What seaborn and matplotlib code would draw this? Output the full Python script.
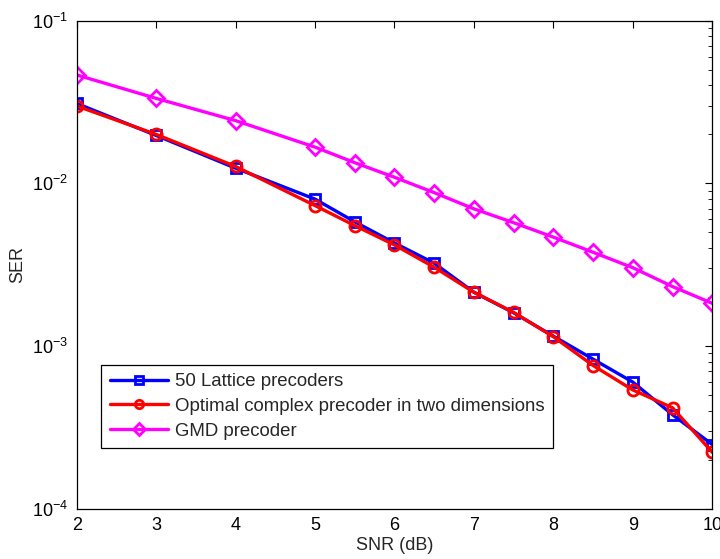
import matplotlib
matplotlib.use("Agg")
import matplotlib.pyplot as plt
import seaborn as sns
import numpy as np
from matplotlib.ticker import LogLocator, NullFormatter, FixedLocator

snr = [2, 3, 4, 5, 5.5, 6, 6.5, 7, 7.5, 8, 8.5, 9, 9.5, 10]
lattice = [0.0310, 0.0197, 0.0124, 0.0080, 0.0058, 0.0043, 0.00323, 0.00214, 0.00160, 0.00115, 0.00083, 0.00060, 0.000378, 0.000248]
optimal = [0.0299, 0.0200, 0.0127, 0.0073, 0.0055, 0.00418, 0.00305, 0.00214, 0.00161, 0.00114, 0.000759, 0.000537, 0.000417, 0.000222]
gmd = [0.0464, 0.0333, 0.0243, 0.0167, 0.0134, 0.0109, 0.00877, 0.00697, 0.00573, 0.00467, 0.00377, 0.00303, 0.00232, 0.00183]
labels = ["50 Lattice precoders", "Optimal complex precoder in two dimensions", "GMD precoder"]
xticks = [2, 3, 4, 5, 6, 7, 8, 9, 10]

sns.set_style("white")
plt.rcParams['font.family'] = ['Liberation Sans', 'DejaVu Sans']
plt.rcParams['mathtext.fontset'] = 'custom'
plt.rcParams['mathtext.rm'] = 'Liberation Sans'
plt.rcParams['mathtext.it'] = 'Liberation Sans'

FS = 13
fig = plt.figure(figsize=(7.2, 5.59), dpi=100)
ax = fig.add_axes([0.1065, 0.09, 0.8828, 0.873])

styles = [
    dict(color="#0000ff", marker="s", markersize=7),
    dict(color="#ff0000", marker="o", markersize=8),
    dict(color="#ff00ff", marker="D", markersize=8),
]
for ys, lab, st in zip([lattice, optimal, gmd], labels, styles):
    sns.lineplot(x=snr, y=ys, ax=ax, label=lab, color=st["color"], marker=st["marker"],
                 markersize=st["markersize"], markerfacecolor="none",
                 markeredgecolor=st["color"], markeredgewidth=2, linewidth=2.4,
                 estimator=None, sort=False)

ax.set_yscale("log")
ax.set_xlim(2, 10)
ax.set_ylim(1e-4, 1e-1)
ax.xaxis.set_major_locator(FixedLocator(xticks))
ax.set_xticklabels([str(t) for t in xticks])
ax.yaxis.set_major_locator(LogLocator(base=10, numticks=10))
ax.yaxis.set_minor_locator(LogLocator(base=10, subs=np.arange(2, 10), numticks=10))
ax.yaxis.set_minor_formatter(NullFormatter())
ax.tick_params(which="both", direction="in", top=True, right=True, labelsize=FS, colors="black")
ax.tick_params(which="major", length=5, width=0.8, pad=6)
ax.tick_params(which="minor", length=3, width=0.6)
for s in ax.spines.values():
    s.set_color("black")
    s.set_linewidth(0.9)
ax.set_xlabel("SNR (dB)", fontsize=FS, labelpad=2)
ax.set_ylabel("SER", fontsize=FS, labelpad=4)

leg = ax.legend(loc="lower left", bbox_to_anchor=(0.039, 0.124), borderaxespad=0,
                prop={"size": 13.4}, handlelength=3.1, handletextpad=0.4, frameon=True, fancybox=False,
                edgecolor="black", framealpha=1, markerscale=0.75,
                labelspacing=0.42, borderpad=0.45)
leg.get_frame().set_linewidth(0.9)

fig.savefig("out.png", dpi=100)
